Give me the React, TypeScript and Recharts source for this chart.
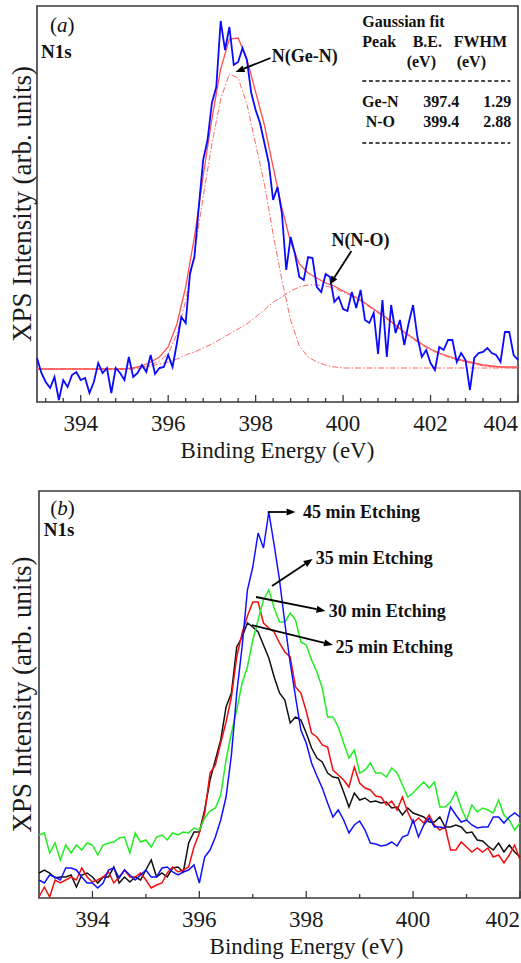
import React from 'react';
import { LineChart, Line, XAxis, YAxis, ReferenceArea, ReferenceLine, ReferenceDot } from 'recharts';

const SERIF = '"Liberation Serif", "Times New Roman", serif';

// (a) N1s spectrum, 393.0 - 404.0 eV, one point every 0.1 eV (arb. units)
const spectrumA = [
  44, 29, 20, 14, 25, 2, 22, 15, 27, 30,
  22, 24, 9, 20, 39, 29, 34, 9, 34, 29,
  22, 45, 25, 29, 37, 30, 47, 28, 34, 35,
  47, 35, 59, 85, 79, 129, 145, 195, 242, 262,
  299, 315, 381, 352, 375, 337, 340, 354, 342, 309,
  292, 279, 259, 239, 202, 215, 189, 132, 165, 148,
  125, 122, 145, 144, 115, 110, 128, 125, 100, 105,
  93, 91, 110, 94, 112, 82, 79, 89, 48, 102,
  45, 97, 69, 82, 57, 79, 97, 65, 45, 52,
  39, 32, 55, 52, 62, 62, 40, 49, 42, 12,
  44, 49, 50, 54, 49, 47, 40, 70, 70, 47,
  42,
];

// (a) Gaussian fit, one point every 0.2 eV
const fitTotal = [
  33, 33, 33, 33, 33, 33, 33, 33, 33, 33,
  33, 34, 36, 40, 45, 55, 78, 115, 165, 226,
  283, 333, 363, 364, 343, 310, 277, 235, 194, 160,
  138, 129, 124, 119, 116, 111, 107, 102, 96, 90,
  84, 77, 70, 64, 58, 53, 49, 46, 43, 41,
  39, 37, 36, 35, 35, 35,
];
const fitGeN = [
  33, 33, 33, 33, 33, 33, 33, 33, 33, 33,
  33, 33, 34, 37, 41, 48, 68, 101, 148, 205,
  258, 303, 328, 324, 298, 258, 218, 168, 122, 82,
  56, 45, 40, 37, 35, 34, 34, 34, 34, 34,
  34, 34, 34, 34, 34, 34, 34, 34, 34, 34,
  34, 34, 34, 34, 34, 34,
];
const fitNO = [
  33, 33, 33, 33, 33, 33, 33, 33, 33, 33,
  33, 34, 35, 36, 38, 40, 43, 47, 50, 54,
  58, 63, 68, 73, 78, 85, 92, 100, 105, 111,
  115, 117, 117, 116, 114, 110, 106, 101, 95, 89,
  83, 76, 69, 63, 57, 52, 48, 45, 42, 40,
  38, 36, 35, 35, 34, 34,
];

const peakNames = ['Ge-N', 'N-O'];
const peakBE = [397.4, 399.4];
const peakFWHM = [1.29, 2.88];

const ticksA = [
  393.2, 393.6, 394, 394.4, 394.8, 395.2, 395.6, 396, 396.4, 396.8,
  397.2, 397.6, 398, 398.4, 398.8, 399.2, 399.6, 400, 400.4, 400.8,
  401.2, 401.6, 402, 402.4, 402.8, 403.2, 403.6, 404,
];
const majorA = [394, 396, 398, 400, 402, 404];

// (b) N1s after etching, 393.0 - 402.0 eV, one point every 0.1 eV
const etch25 = [
  25, 28, 25, 20, 21, 21, 23, 11, 23, 25,
  21, 15, 21, 21, 31, 15, 21, 16, 21, 18,
  28, 38, 21, 25, 21, 30, 31, 26, 55, 66,
  66, 88, 118, 138, 158, 191, 205, 251, 261, 275,
  271, 266, 253, 240, 221, 205, 198, 175, 181, 178,
  165, 150, 140, 136, 125, 121, 120, 106, 91, 105,
  98, 100, 96, 97, 95, 96, 90, 91, 83, 90,
  85, 83, 81, 76, 76, 81, 71, 71, 73, 71,
  65, 66, 58, 57, 52, 48, 55, 46, 53, 46,
  41,
];
const etch30 = [
  1, 11, 1, 18, 15, 18, 21, 18, 30, 21,
  16, 18, 21, 26, 15, 21, 28, 21, 21, 25,
  18, 10, 13, 15, 25, 31, 26, 28, 31, 51,
  65, 85, 125, 133, 155, 176, 201, 241, 265, 282,
  296, 296, 275, 270, 266, 255, 246, 241, 211, 205,
  187, 165, 161, 153, 151, 128, 123, 118, 111, 131,
  115, 110, 108, 102, 101, 93, 97, 88, 101, 86,
  75, 80, 75, 83, 73, 68, 71, 48, 48, 56,
  51, 46, 50, 46, 50, 41, 43, 35, 43, 53,
  38,
];
const etch35 = [
  63, 65, 45, 55, 38, 53, 45, 53, 48, 55,
  53, 43, 53, 55, 56, 60, 61, 45, 65, 56,
  58, 51, 61, 63, 58, 65, 63, 66, 65, 70,
  68, 80, 87, 90, 103, 138, 165, 188, 215, 231,
  258, 278, 298, 308, 290, 276, 276, 285, 278, 256,
  253, 238, 226, 210, 181, 181, 171, 155, 140, 148,
  125, 128, 135, 125, 125, 121, 130, 125, 113, 101,
  105, 111, 116, 110, 116, 91, 91, 96, 106, 90,
  78, 93, 86, 90, 88, 85, 98, 83, 78, 68,
  75,
];
const etch45 = [
  18, 15, 23, 21, 18, 30, 30, 28, 21, 15,
  15, 10, 15, 28, 30, 20, 28, 23, 18, 23,
  28, 21, 21, 30, 31, 26, 23, 26, 28, 33,
  15, 41, 48, 61, 78, 101, 143, 205, 251, 308,
  331, 365, 350, 386, 353, 318, 275, 235, 201, 168,
  155, 135, 122, 110, 95, 81, 88, 78, 65, 73,
  77, 68, 55, 54, 52, 53, 56, 52, 61, 63,
  78, 61, 73, 80, 71, 71, 70, 91, 83, 76,
  78, 73, 70, 71, 71, 81, 81, 75, 81, 85,
  81,
];

const ticksB = [394, 395, 396, 397, 398, 399, 400, 401, 402];
const majorB = [394, 396, 398, 400, 402];

const toPoints = (vals: number[], start: number, step: number) =>
  vals.map((v, i) => ({ e: Math.round((start + i * step) * 100) / 100, v }));

const same = (a: number, b: number) => Math.abs(a - b) < 1e-6;

const serif = { fontFamily: SERIF };

const renderTick = (majors: number[], last: number) => (p: any) => {
  const v = p.payload.value;
  const major = majors.some((m) => same(m, v));
  return (
    <g>
      <line x1={p.x} x2={p.x} y1={p.y} y2={p.y - (major ? 7 : 4)} stroke="#3a3a3a" strokeWidth={1.3} />
      {major && (
        <text x={p.x} y={p.y + 29} textAnchor={same(v, last) ? 'end' : 'middle'}
          style={{ ...serif, fontSize: 23 }} fill="#1a1a1a">{v}</text>
      )}
    </g>
  );
};

const xTitle = (shift: number) => (p: any) => {
  const vb = p.viewBox || { x: 37, y: 402, width: 481 };
  return (
    <text x={vb.x + vb.width / 2 + shift} y={vb.y + 56} textAnchor="middle"
      style={{ ...serif, fontSize: 23 }} fill="#1a1a1a">Binding Energy (eV)</text>
  );
};

const yTitle = (p: any) => {
  const vb = p.viewBox || { y: 6, height: 396 };
  const cy = vb.y + vb.height / 2;
  return (
    <text x={22} y={cy} transform={`rotate(-90 22 ${cy})`} textAnchor="middle" dominantBaseline="central"
      style={{ ...serif, fontSize: 27 }} fill="#1a1a1a">XPS Intensity (arb. units)</text>
  );
};

const ArrowShape = (p: any) => {
  const { x1, y1, x2, y2 } = p;
  const ang = Math.atan2(y2 - y1, x2 - x1);
  const len = 9;
  const half = 3.5;
  const bx = x2 - len * Math.cos(ang);
  const by = y2 - len * Math.sin(ang);
  const nx = -Math.sin(ang) * half;
  const ny = Math.cos(ang) * half;
  return (
    <g>
      <line x1={x1} y1={y1} x2={bx} y2={by} stroke="#000" strokeWidth={1.8} />
      <polygon points={`${x2},${y2} ${bx + nx},${by + ny} ${bx - nx},${by - ny}`} fill="#000" />
    </g>
  );
};

const arrow = (key: string, from: [number, number], to: [number, number]) => (
  <ReferenceLine key={key} ifOverflow="visible"
    segment={[{ x: from[0], y: from[1] }, { x: to[0], y: to[1] }]}
    shape={(p: any) => <ArrowShape {...p} />} />
);

const note = (key: string, e: number, h: number, content: React.ReactNode, size: number, bold = true, anchor = 'start') => (
  <ReferenceDot key={key} x={e} y={h} r={1} ifOverflow="visible"
    shape={(p: any) => (
      <text x={p.cx} y={p.cy} textAnchor={anchor}
        style={{ ...serif, fontSize: size, fontWeight: bold ? 'bold' : 'normal' }} fill="#111">{content}</text>
    )} />
);

const FitTable = (p: any) => {
  const x = p.cx;
  const y = p.cy;
  return (
    <g style={{ ...serif, fontSize: 16, fontWeight: 'bold' }} fill="#111">
      <text x={x} y={y}>Gaussian fit</text>
      <text x={x} y={y + 20}>Peak</text>
      <text x={x + 65} y={y + 20} textAnchor="middle">B.E.</text>
      <text x={x + 118} y={y + 20} textAnchor="middle">FWHM</text>
      <text x={x + 59} y={y + 40} textAnchor="middle">(eV)</text>
      <text x={x + 109} y={y + 40} textAnchor="middle">(eV)</text>
      <line x1={x} x2={x + 148} y1={y + 54} y2={y + 54} stroke="#111" strokeWidth={1.5} strokeDasharray="4 2.6" />
      {peakNames.map((n, i) => (
        <g key={n}>
          <text x={x + 18} y={y + 80 + i * 20} textAnchor="middle">{n}</text>
          <text x={x + 79} y={y + 80 + i * 20} textAnchor="middle">{peakBE[i].toFixed(1)}</text>
          <text x={x + 149} y={y + 80 + i * 20} textAnchor="end">{peakFWHM[i].toFixed(2)}</text>
        </g>
      ))}
      <line x1={x} x2={x + 148} y1={y + 116} y2={y + 116} stroke="#111" strokeWidth={1.5} strokeDasharray="4 2.6" />
    </g>
  );
};

const panelLabel = (letter: string) => (
  <>
    (<tspan fontStyle="italic">{letter}</tspan>)
  </>
);

const App = () => {
  const dataA = toPoints(spectrumA, 393, 0.1);
  const totalA = toPoints(fitTotal, 393, 0.2);
  const geN = toPoints(fitGeN, 393, 0.2);
  const nO = toPoints(fitNO, 393, 0.2);

  return (
    <div style={{ position: 'absolute', left: 0, top: 0, width: 521, height: 963, background: '#fff', fontFamily: SERIF }}>
      <div style={{ position: 'absolute', left: 0, top: 0 }}>
        <LineChart width={521} height={470} margin={{ top: 6, right: 3, bottom: 0, left: 0 }}>
          <XAxis type="number" dataKey="e" domain={[393, 404]} ticks={ticksA} interval={0}
            height={68} tickSize={0} tickMargin={0} axisLine={false} tickLine={false}
            tick={renderTick(majorA, 404)} label={xTitle(0)} />
          <YAxis type="number" domain={[0, 396]} width={37} tick={false} axisLine={false} tickLine={false} label={yTitle} />
          <Line data={geN} dataKey="v" stroke="#ff6a6a" strokeWidth={1} strokeDasharray="6 2 1.5 2" dot={false} activeDot={false} isAnimationActive={false} />
          <Line data={nO} dataKey="v" stroke="#ff6a6a" strokeWidth={1} strokeDasharray="6 2 1.5 2" dot={false} activeDot={false} isAnimationActive={false} />
          <Line data={totalA} dataKey="v" stroke="#ff5050" strokeWidth={1.3} dot={false} activeDot={false} isAnimationActive={false} />
          <Line data={dataA} dataKey="v" stroke="#0a0aff" strokeWidth={1.8} dot={false} activeDot={false} isAnimationActive={false} />
          <ReferenceArea x1={393} x2={404} y1={0} y2={396} fill="none" stroke="#3a3a3a" strokeWidth={1.6} ifOverflow="visible" />
          {note('a-lab', 393.3, 370, panelLabel('a'), 21, false)}
          {note('a-n1s', 393.09, 344, 'N1s', 19)}
          {note('a-gen', 398.37, 340, 'N(Ge-N)', 18)}
          {arrow('a-gen-arrow', [398.34, 344], [397.54, 330])}
          {note('a-no', 400.4, 156, 'N(N-O)', 18, true, 'middle')}
          {arrow('a-no-arrow', [400.19, 151], [399.69, 117])}
          <ReferenceDot x={400.44} y={375} r={1} ifOverflow="visible" shape={(p: any) => <FitTable {...p} />} />
        </LineChart>
      </div>
      <div style={{ position: 'absolute', left: 0, top: 470 }}>
        <LineChart width={521} height={493} margin={{ top: 21, right: 1, bottom: 0, left: 0 }}>
          <XAxis type="number" dataKey="e" domain={[393, 402]} ticks={ticksB} interval={0}
            height={65} tickSize={0} tickMargin={0} axisLine={false} tickLine={false}
            tick={renderTick(majorB, 402)} label={xTitle(27)} />
          <YAxis type="number" domain={[0, 407]} width={39} tick={false} axisLine={false} tickLine={false} label={yTitle} />
          <Line data={toPoints(etch25, 393, 0.1)} dataKey="v" stroke="#111" strokeWidth={1.5} dot={false} activeDot={false} isAnimationActive={false} />
          <Line data={toPoints(etch30, 393, 0.1)} dataKey="v" stroke="#f01010" strokeWidth={1.5} dot={false} activeDot={false} isAnimationActive={false} />
          <Line data={toPoints(etch35, 393, 0.1)} dataKey="v" stroke="#22ee22" strokeWidth={1.5} dot={false} activeDot={false} isAnimationActive={false} />
          <Line data={toPoints(etch45, 393, 0.1)} dataKey="v" stroke="#1010ff" strokeWidth={1.5} dot={false} activeDot={false} isAnimationActive={false} />
          <ReferenceArea x1={393} x2={402} y1={0} y2={407} fill="none" stroke="#3a3a3a" strokeWidth={1.6} ifOverflow="visible" />
          {note('b-lab', 393.21, 383, panelLabel('b'), 21, false)}
          {note('b-n1s', 393.09, 362, 'N1s', 19)}
          {arrow('b-45', [397.28, 386], [397.8, 386])}
          {note('b-45t', 397.94, 380, '45 min Etching', 18)}
          {arrow('b-35', [397.36, 312], [398.12, 339])}
          {note('b-35t', 398.18, 334, '35 min Etching', 18)}
          {arrow('b-30', [397.06, 301], [398.36, 287])}
          {note('b-30t', 398.42, 281, '30 min Etching', 18)}
          {arrow('b-25', [396.98, 273], [398.5, 253])}
          {note('b-25t', 398.55, 245, '25 min Etching', 18)}
        </LineChart>
      </div>
    </div>
  );
};

export default App;
